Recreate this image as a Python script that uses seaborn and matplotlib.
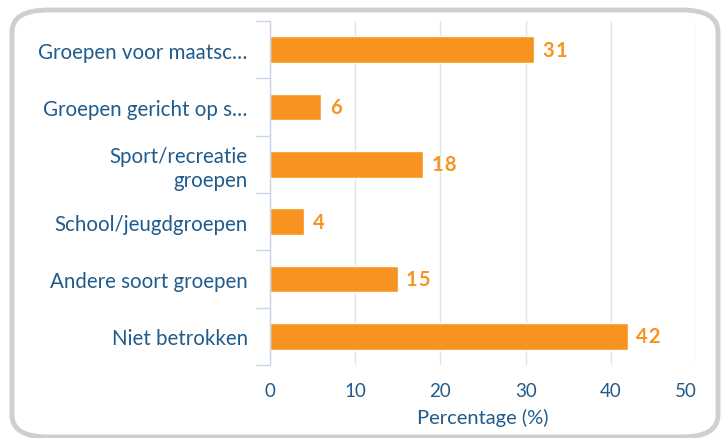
import matplotlib
matplotlib.use("Agg")
import matplotlib.pyplot as plt
import matplotlib.transforms as mtransforms
import seaborn as sns
import pandas as pd
from matplotlib.patches import FancyBboxPatch
from matplotlib.ticker import FixedLocator

categories = ["Groepen voor maatsc…", "Groepen gericht op s…", "Sport/recreatie\ngroepen",
              "School/jeugdgroepen", "Andere soort groepen", "Niet betrokken"]
values = [31, 6, 18, 4, 15, 42]
x_ticks = [0, 10, 20, 30, 40, 50]

sns.set_style("white")
plt.rcParams['font.family'] = ['Lato', 'DejaVu Sans']

text_color = "#1f5b8c"
bar_color = "#f7931e"

df = pd.DataFrame({"cat": categories, "val": values})

fig = plt.figure(figsize=(7.25, 4.39), dpi=100)
ax = fig.add_axes([270/725, 1 - 366/439, (696-270)/725, (366-22)/439])

sns.barplot(data=df, y="cat", x="val", orient="h", color=bar_color, width=0.47,
            saturation=1, ax=ax)

ax.set_xlim(0, 50)
ax.set_ylim(len(categories) - 0.5, -0.5)
ax.set_xticks(x_ticks)
ax.set_xticklabels([str(t) for t in x_ticks])
ax.xaxis.grid(True, color="#e3e3e3", linewidth=1)
ax.set_axisbelow(True)
ax.tick_params(axis="x", length=0, labelsize=13.5, labelcolor=text_color, pad=12)
ax.tick_params(axis="y", which="major", left=False, length=0, labelsize=14.8,
               labelcolor=text_color, pad=16)
ax.yaxis.set_minor_locator(FixedLocator([i - 0.5 for i in range(len(categories) + 1)]))
ax.tick_params(axis="y", which="minor", left=True, length=10, color="#c9d6ea", width=1)
for lbl in ax.get_yticklabels():
    lbl.set_horizontalalignment("right")
    lbl.set_multialignment("right")
    lbl.set_linespacing(1.2)

# last x tick label is pulled inward in the reference
last = ax.get_xticklabels()[-1]
last.set_transform(last.get_transform() +
                   mtransforms.ScaledTranslation(-10/100, 0, fig.dpi_scale_trans))

for s in ["top", "right", "bottom"]:
    ax.spines[s].set_visible(False)
ax.spines["left"].set_color("#c9d6ea")
ax.spines["left"].set_linewidth(1)

ax.set_ylabel("")
ax.set_xlabel("Percentage (%)", color=text_color, fontsize=14.5, labelpad=7)

for i, v in enumerate(values):
    ax.text(v + 1.0, i, "\u200a".join(str(v)), va="center", ha="left", color=bar_color,
            fontsize=14.5, fontweight="bold")

border = FancyBboxPatch((12/725, 1/439), (718-12)/725, (428-1)/439,
                        boxstyle="round,pad=0,rounding_size=0.05",
                        transform=fig.transFigure, facecolor="none",
                        edgecolor="#cfcfcf", linewidth=3.5, zorder=-1)
fig.patches.append(border)

fig.savefig("out.png", dpi=100)
